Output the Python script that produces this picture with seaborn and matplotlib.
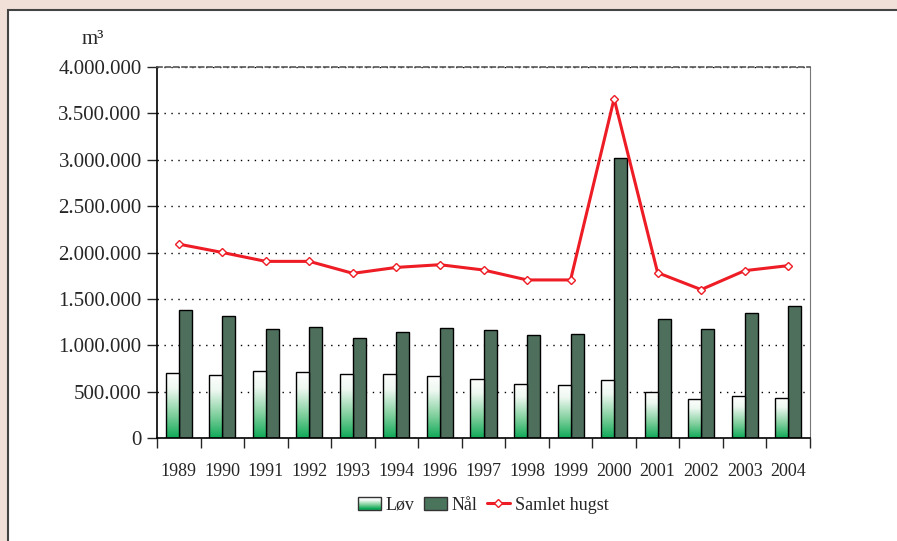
import numpy as np
import pandas as pd
import seaborn as sns
import matplotlib.pyplot as plt
from matplotlib.patches import Rectangle, Patch
from matplotlib.lines import Line2D
from matplotlib.colors import LinearSegmentedColormap
from matplotlib.legend_handler import HandlerBase
from matplotlib.ticker import FuncFormatter, MultipleLocator

# data (m3)
years = ["1989", "1990", "1991", "1992", "1993", "1994", "1996", "1997",
         "1998", "1999", "2000", "2001", "2002", "2003", "2004"]
lov = [704000, 683000, 730000, 711000, 693000, 693000, 672000, 644000,
       586000, 575000, 633000, 500000, 422000, 451000, 432000]
naal = [1387000, 1320000, 1173000, 1194000, 1076000, 1148000, 1184000, 1166000,
        1108000, 1127000, 3018000, 1280000, 1173000, 1348000, 1427000]
samlet = [2092000, 2002000, 1906000, 1906000, 1777000, 1841000, 1870000, 1813000,
          1706000, 1706000, 3659000, 1784000, 1602000, 1806000, 1860000]

df = pd.DataFrame({
    "year": years * 2,
    "type": ["Løv"] * len(years) + ["Nål"] * len(years),
    "value": lov + naal,
})

sns.set_style("white")
plt.rcParams["font.family"] = ["Liberation Serif", "DejaVu Serif"]

green_cmap = LinearSegmentedColormap.from_list(
    "lov", [(0, "#0faa58"), (0.35, "#7fcf9c"), (0.75, "#eef8f1"), (1, "#ffffff")])
naal_color = "#4a745c"
red = "#ee1c25"

fig = plt.figure(figsize=(8.97, 5.41), dpi=100, facecolor="#f0e0d8")
fig.patches.append(Rectangle((8 / 897, -0.05), 1.0, 1 - 10 / 541 + 0.05,
                             transform=fig.transFigure, facecolor="white",
                             edgecolor="#444444", linewidth=1.5, zorder=-5))
ax = fig.add_axes([157 / 897, 1 - 438.3 / 541, 653 / 897, 371.3 / 541])
ax.set_zorder(1)
ax.set_facecolor("white")

sns.barplot(data=df, x="year", y="value", hue="type",
            palette={"Løv": "white", "Nål": naal_color}, width=0.6,
            edgecolor="black", linewidth=1, legend=False, ax=ax, zorder=2)

# gradient fill for the Løv bars
grad = np.linspace(0, 1, 256).reshape(-1, 1)
for bar in ax.containers[0]:
    x0, y0 = bar.get_x(), bar.get_y()
    w, h = bar.get_width(), bar.get_height()
    im = ax.imshow(grad, extent=[x0, x0 + w, y0, y0 + h], origin="lower",
                   aspect="auto", cmap=green_cmap, zorder=2.1)
    im.set_clip_path(bar)
    bar.set_facecolor("none")
    bar.set_zorder(2.2)

sns.pointplot(x=years, y=samlet, color=red, markers="D", ax=ax,
              linewidth=2.2, markersize=4, errorbar=None)
for ln in ax.lines:
    if ln.get_marker() == "D":
        ln.set_markerfacecolor("white")
        ln.set_markeredgecolor(red)
        ln.set_markeredgewidth(1)
        ln.set_zorder(5)

ax.set_xlim(-0.5, len(years) - 0.5)
ax.set_ylim(0, 4000000)
ax.yaxis.set_major_locator(MultipleLocator(500000))
ax.yaxis.set_major_formatter(FuncFormatter(lambda v, p: f"{int(v):,}".replace(",", ".")))
ax.grid(axis="y", color="black", linestyle=(0, (1, 4)), linewidth=1)
ax.set_axisbelow(True)
ax.set_xlabel("")
ax.set_ylabel("")

for s in ["left", "bottom"]:
    ax.spines[s].set_color("black")
    ax.spines[s].set_linewidth(1.2)
ax.spines["right"].set_color("#777777")
ax.spines["top"].set_color("#555555")
ax.spines["top"].set_linestyle((0, (3, 2)))
ax.spines["top"].set_linewidth(1.2)

ax.tick_params(axis="y", left=True, length=7, width=1, labelsize=15, pad=4)
ax.set_xticks(range(len(years)))
ax.set_xticklabels(years)
ax.set_xticks(np.arange(-0.5, len(years), 1), minor=True)
ax.tick_params(axis="x", which="major", length=0, labelsize=13, pad=18)
ax.tick_params(axis="x", which="minor", bottom=True, length=7, width=1)

fig.text(93 / 897, 1 - 40 / 541, "m³", fontsize=15, ha="center", va="center")


class GradientHandler(HandlerBase):
    def create_artists(self, legend, orig_handle, xdescent, ydescent,
                       width, height, fontsize, trans):
        arts = []
        n = 12
        for i in range(n):
            c = green_cmap(i / (n - 1))
            arts.append(Rectangle((-xdescent, -ydescent + height * i / n), width,
                                  height / n, facecolor=c, edgecolor="none",
                                  transform=trans))
        arts.append(Rectangle((-xdescent, -ydescent), width, height,
                              facecolor="none", edgecolor="#333333",
                              linewidth=1, transform=trans))
        return arts


h_lov = Patch(label="Løv")
h_naal = Patch(facecolor=naal_color, edgecolor="#333333", label="Nål")
h_sam = Line2D([], [], color=red, linewidth=2.2, marker="D", markersize=4,
               markerfacecolor="white", markeredgecolor=red, label="Samlet hugst")
fig.legend(handles=[h_lov, h_naal, h_sam], loc="center",
           bbox_to_anchor=(483 / 897, 1 - 505 / 541), ncol=3, frameon=False,
           fontsize=13, handlelength=1.3, handletextpad=0.25, columnspacing=0.5,
           handler_map={h_lov: GradientHandler()})

fig.savefig("out.png", dpi=100, facecolor=fig.get_facecolor())
